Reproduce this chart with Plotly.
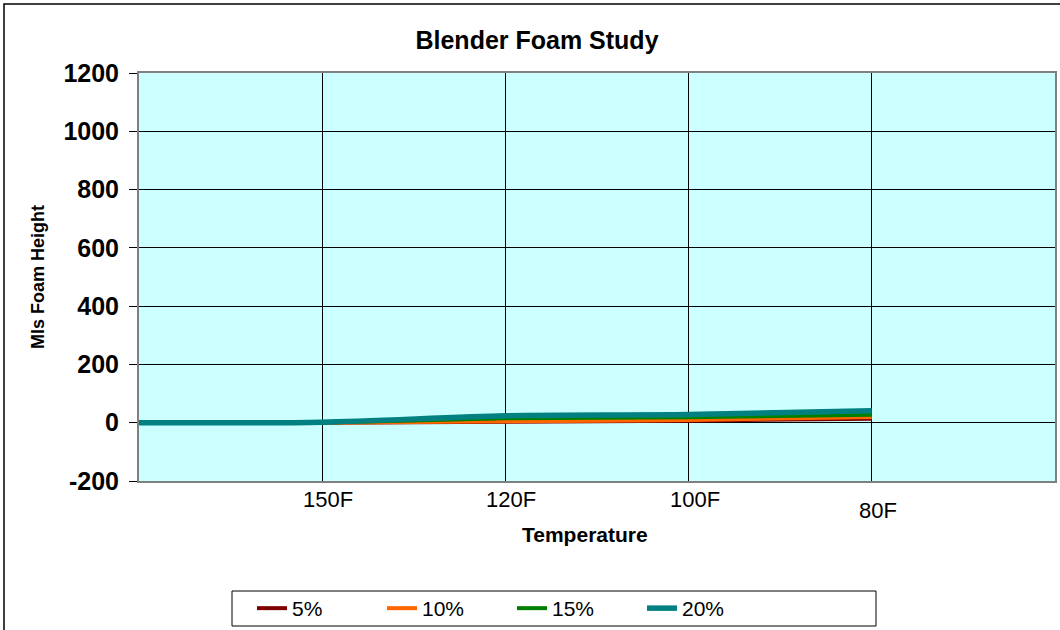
import plotly.graph_objects as go

categories = ["", "150F", "120F", "100F", "80F"]
series_names = ["5%", "10%", "15%", "20%"]
foam_5 = [0, 0, 3, 7, 14]
foam_10 = [0, 0, 5, 9, 20]
foam_15 = [0, 1, 15, 19, 27]
foam_20 = [0, 2, 24, 28, 41]
y_ticks = [-200, 0, 200, 400, 600, 800, 1000, 1200]
colors = ["#800000", "#FF6600", "#008000", "#008080"]
widths = [4, 4, 4, 5.5]

font = "Liberation Sans, Arial, sans-serif"
xpos = list(range(len(categories)))

# plot area in pixels: left 139, right 1055, top 73, bottom 481
def px(x):
    return (x - 139) / 916

def py(y):
    return (481 - y) / 408

fig = go.Figure()
for name, ys, c, w in zip(series_names, [foam_5, foam_10, foam_15, foam_20], colors, widths):
    fig.add_trace(go.Scatter(x=xpos, y=ys, name=name, mode="lines",
                             line=dict(color=c, width=w, shape="spline", smoothing=0.8)))

# category labels (80F sits a bit lower in the original)
for i, lab in enumerate(categories):
    if not lab:
        continue
    fig.add_annotation(x=i, y=0, xref="x", yref="paper", text=lab, showarrow=False,
                       xanchor="center", yanchor="top", xshift=6,
                       yshift=-4 if lab != "80F" else -15,
                       font=dict(family=font, size=22, color="black"))

fig.add_annotation(x=px(585), y=py(534), xref="paper", yref="paper",
                   text="<b>Temperature</b>", showarrow=False, xanchor="center", yanchor="middle",
                   font=dict(family=font, size=21, color="black"))
fig.add_annotation(x=px(38), y=py(277), xref="paper", yref="paper",
                   text="<b>Mls Foam Height</b>", showarrow=False, textangle=-90,
                   xanchor="center", yanchor="middle",
                   font=dict(family=font, size=18, color="black"))

# outer chart border
fig.add_shape(type="rect", xref="paper", yref="paper",
              x0=px(4), x1=px(1070), y0=py(640), y1=py(4),
              line=dict(color="black", width=1.5), layer="below")
# legend box
fig.add_shape(type="rect", xref="paper", yref="paper",
              x0=px(232), x1=px(876), y0=py(626), y1=py(591),
              line=dict(color="black", width=1), fillcolor="white", layer="below")

fig.update_layout(
    width=1060, height=630,
    margin=dict(l=139, r=5, t=73, b=149, autoexpand=False),
    paper_bgcolor="white",
    plot_bgcolor="#CCFFFF",
    title=dict(text="<b>Blender Foam Study</b>", x=537 / 1060, xanchor="center",
               y=1 - 40 / 630, yanchor="middle",
               font=dict(family=font, size=25, color="black")),
    showlegend=True,
    legend=dict(orientation="h", x=px(252), y=py(588),
                xanchor="left", yanchor="top", bgcolor="rgba(0,0,0,0)",
                borderwidth=0,
                entrywidth=85, entrywidthmode="pixels",
                font=dict(family=font, size=21, color="black"),
                itemwidth=30),
    xaxis=dict(range=[0, 5], tickvals=list(range(6)), showticklabels=False,
               showgrid=True, gridcolor="black", gridwidth=1,
               showline=True, linecolor="#808080", linewidth=2, mirror=True,
               zeroline=False, ticks="", fixedrange=True),
    yaxis=dict(range=[-200, 1200], tickvals=y_ticks, ticktext=[str(v) for v in y_ticks],
               showgrid=True, gridcolor="black", gridwidth=1,
               showline=True, linecolor="#808080", linewidth=2, mirror=True,
               zeroline=False, ticks="outside", ticklen=8, tickcolor="black",
               ticklabelstandoff=5,
               tickfont=dict(family=font, size=25, color="black", weight="bold"),
               fixedrange=True),
)

fig.write_html("out.html", config={"displayModeBar": False},
               post_script="document.body.style.margin='0';")
